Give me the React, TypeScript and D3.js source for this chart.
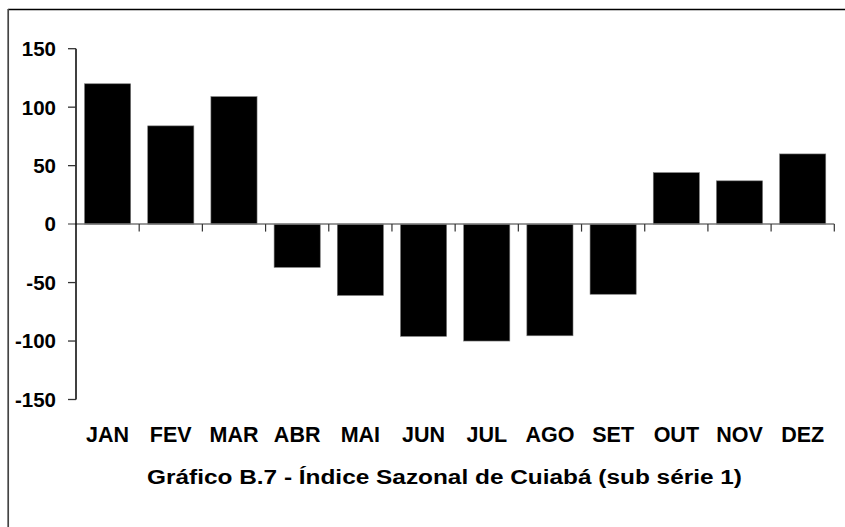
import React from "react";
import * as d3 from "d3";

const months = ["JAN", "FEV", "MAR", "ABR", "MAI", "JUN", "JUL", "AGO", "SET", "OUT", "NOV", "DEZ"];
const values = [120, 84, 109, -37, -61, -96, -100, -95.5, -60, 44, 37, 60];
const yTicks = [150, 100, 50, 0, -50, -100, -150];
const title = "Gráfico B.7 - Índice Sazonal de Cuiabá (sub série 1)";

const W = 845;
const H = 527;
const left = 76;
const right = 834.3;
const top = 48.7;
const bottom = 399.5;

export default function App() {
  const x = d3.scaleBand<string>().domain(months).range([left, right]).paddingInner(0.27).paddingOuter(0.135);
  const y = d3.scaleLinear().domain([-150, 150]).range([bottom, top]);
  const step = (right - left) / months.length;
  const font = "'Liberation Sans', Arial, sans-serif";
  return (
    <div style={{ position: "absolute", left: 0, top: 0 }}>
      <svg width={W} height={H} style={{ display: "block", background: "#fff" }}>
        <line x1={8} y1={9.5} x2={W} y2={9.5} stroke="#000" strokeWidth={1.5} />
        <line x1={8.2} y1={9} x2={8.2} y2={H} stroke="#444" strokeWidth={1.7} />
        {months.map((m, i) => {
          const v = values[i];
          const x0 = x(m)!;
          return (
            <rect
              key={m}
              x={x0}
              y={y(Math.max(0, v))}
              width={x.bandwidth()}
              height={Math.abs(y(v) - y(0))}
              fill="#000"
              stroke="#777"
              strokeWidth={0.6}
            />
          );
        })}
        <line x1={68} y1={y(0)} x2={right} y2={y(0)} stroke="#777" strokeWidth={1.5} />
        {months.map((m, i) => (
          <line key={"t" + m} x1={left + step * (i + 1)} x2={left + step * (i + 1)} y1={y(0)} y2={y(0) + 7.5} stroke="#333" strokeWidth={1.2} />
        ))}
        <line x1={left} y1={top} x2={left} y2={bottom} stroke="#000" strokeWidth={1.5} />
        {yTicks.map((t) => (
          <g key={t}>
            {t !== 0 && <line x1={68} x2={left} y1={y(t)} y2={y(t)} stroke="#333" strokeWidth={1.3} />}
            <text x={56} y={y(t)} dy="0.36em" textAnchor="end" fontFamily={font} fontWeight="bold" fontSize={20.5} fill="#000">
              {t}
            </text>
          </g>
        ))}
        {months.map((m) => (
          <text key={"l" + m} x={x(m)! + x.bandwidth() / 2} y={442} textAnchor="middle" fontFamily={font} fontWeight="bold" fontSize={21.5} fill="#000">
            {m}
          </text>
        ))}
        <text x={147} y={484} textLength={595} lengthAdjust="spacingAndGlyphs" fontFamily={font} fontWeight="bold" fontSize={19.5} fill="#000">
          {title}
        </text>
      </svg>
    </div>
  );
}
